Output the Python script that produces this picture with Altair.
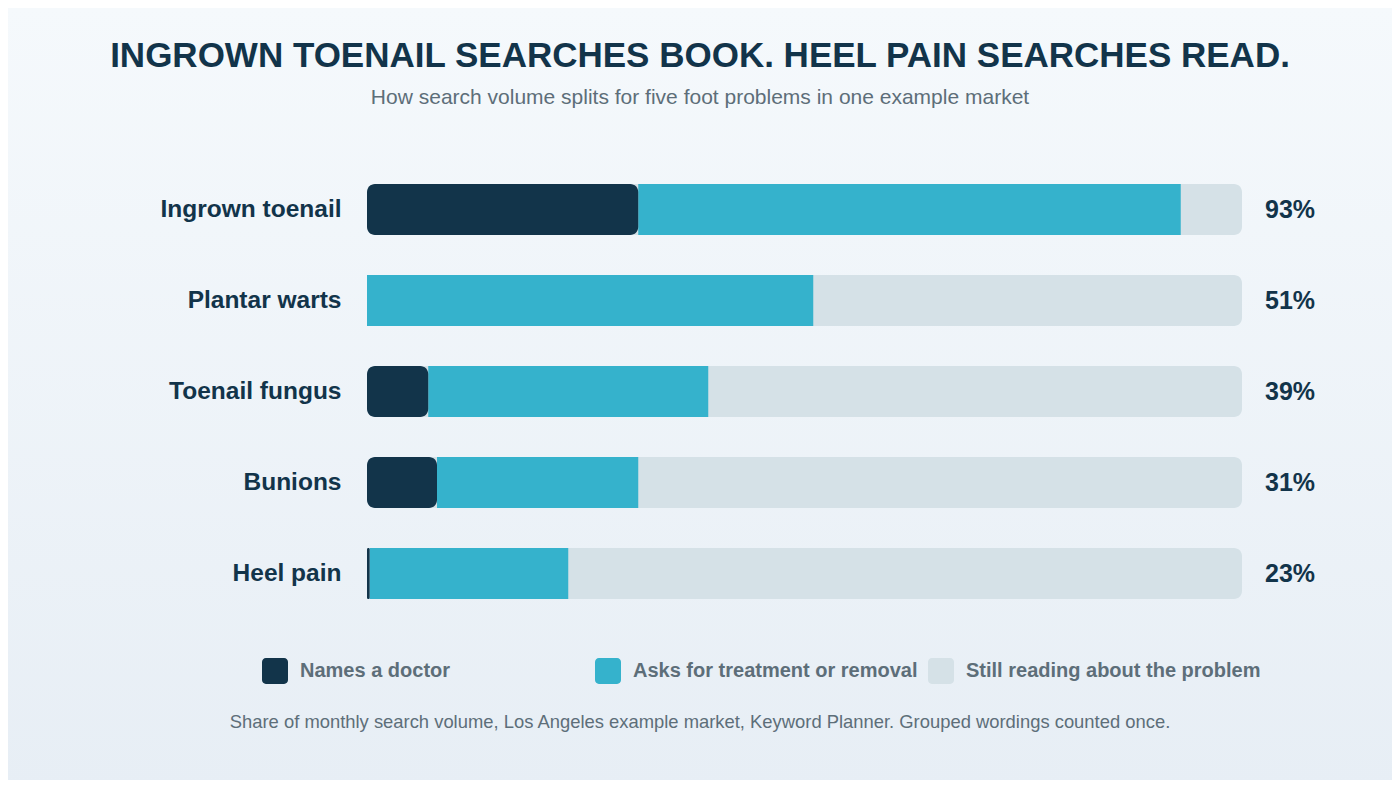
import pandas as pd
import altair as alt

problems = ["Ingrown toenail", "Plantar warts", "Toenail fungus", "Bunions", "Heel pain"]
names_doctor = [31, 0, 7, 8, 0.3]
asks_treatment = [62, 51, 32, 23, 22.7]

segments = ["Names a doctor", "Asks for treatment or removal", "Still reading about the problem"]
seg_colors = ["#12344a", "#35b2cc", "#d5e1e7"]

title = "INGROWN TOENAIL SEARCHES BOOK. HEEL PAIN SEARCHES READ."
subtitle = "How search volume splits for five foot problems in one example market"
footnote = ("Share of monthly search volume, Los Angeles example market, Keyword Planner. "
            "Grouped wordings counted once.")

DARK = "#12344a"
GREY_TEXT = "#5d6e79"
FONT = "Liberation Sans"

rows = []
for p, d, t in zip(problems, names_doctor, asks_treatment):
    total = d + t
    rows.append({"problem": p, "segment": segments[0], "start": 0, "end": d, "total": total})
    rows.append({"problem": p, "segment": segments[1], "start": d, "end": total, "total": total})
    rows.append({"problem": p, "segment": segments[2], "start": 0, "end": 100, "total": total})
df = pd.DataFrame(rows)
df["label"] = df["total"].round().astype(int).astype(str) + "%"

W, H = 875, 455
PAD_L, PAD_T = 359, 156

rounded_square = ("M-0.7,-1 H0.7 A0.3,0.3 0 0 1 1,-0.7 V0.7 A0.3,0.3 0 0 1 0.7,1 "
                  "H-0.7 A0.3,0.3 0 0 1 -1,0.7 V-0.7 A0.3,0.3 0 0 1 -0.7,-1 Z")

y_enc = alt.Y("problem:N", sort=problems, title=None,
              scale=alt.Scale(paddingInner=0.44, paddingOuter=0.22),
              axis=alt.Axis(labelFont=FONT, labelFontSize=24.5, labelFontWeight="bold",
                            labelColor=DARK, labelPadding=26, ticks=False, domain=False,
                            grid=False, labelLimit=300, zindex=1))
x_scale = alt.Scale(domain=[0, 100], nice=False)
color_enc = alt.Color("segment:N", sort=segments,
                      scale=alt.Scale(domain=segments, range=seg_colors),
                      legend=alt.Legend(title=None, orient="none", legendX=-105, legendY=494,
                                        direction="horizontal", columns=3, gridAlign="all",
                                        columnPadding=-2, symbolType=rounded_square,
                                        symbolSize=676, symbolStrokeWidth=0, symbolOpacity=1,
                                        labelFont=FONT, labelFontSize=20, labelFontWeight="bold",
                                        labelColor=GREY_TEXT, labelOffset=12, labelLimit=400,
                                        padding=0, zindex=1))

# soft vertical wash behind everything
backdrop = alt.Chart(pd.DataFrame({"k": [0]})).mark_rect(
    color=alt.LinearGradient(gradient="linear", x1=0, x2=0, y1=0, y2=1,
                             stops=[alt.GradientStop(color="#f5f9fc", offset=0),
                                    alt.GradientStop(color="#e7eef5", offset=1)])).encode(
    x=alt.value(-PAD_L), x2=alt.value(1392 - PAD_L),
    y=alt.value(-PAD_T), y2=alt.value(780 - PAD_T))

base = alt.Chart(df)

track = base.transform_filter(alt.datum.segment == segments[2]).mark_bar(
    cornerRadius=8).encode(
    x=alt.X("start:Q", scale=x_scale, axis=None), x2="end:Q",
    y=y_enc, color=color_enc)

teal = base.transform_filter(alt.datum.segment == segments[1]).mark_bar().encode(
    x=alt.X("start:Q", scale=x_scale, axis=None), x2="end:Q",
    y=y_enc, color=color_enc)

dark = base.transform_filter(
    (alt.datum.segment == segments[0]) & (alt.datum.end > 0)).mark_bar(
    cornerRadius=8).encode(
    x=alt.X("start:Q", scale=x_scale, axis=None), x2="end:Q",
    y=y_enc, color=color_enc)

pct = base.transform_filter(alt.datum.segment == segments[2]).mark_text(
    align="left", baseline="middle", dx=23, font=FONT, fontSize=25,
    fontWeight="bold", color=DARK).encode(
    x=alt.value(W), y=y_enc, text="label:N")

note = alt.Chart(pd.DataFrame({"t": [footnote]})).mark_text(
    align="center", baseline="middle", font=FONT, fontSize=18.4, color=GREY_TEXT).encode(
    x=alt.value(700 - 8 - PAD_L), y=alt.value(722 - 8 - PAD_T), text="t:N")

chart = alt.layer(backdrop, track, teal, dark, pct, note).properties(
    width=W, height=H,
    autosize=alt.AutoSizeParams(type="none"),
    padding={"left": PAD_L, "top": PAD_T, "right": 1384 - PAD_L - W, "bottom": 772 - PAD_T - H},
    background="#eef4f8",
    title=alt.TitleParams(title, subtitle=subtitle, anchor="middle", frame="group",
                          dx=700 - 8 - PAD_L - W / 2, offset=56 - PAD_T, zindex=1,
                          font=FONT, fontSize=35, fontWeight="bold", color=DARK,
                          subtitleFont=FONT, subtitleFontSize=21, subtitleColor=GREY_TEXT,
                          subtitlePadding=13),
).configure_view(stroke=None)

chart.save("out.html", embed_options={"renderer": "svg", "actions": False})
